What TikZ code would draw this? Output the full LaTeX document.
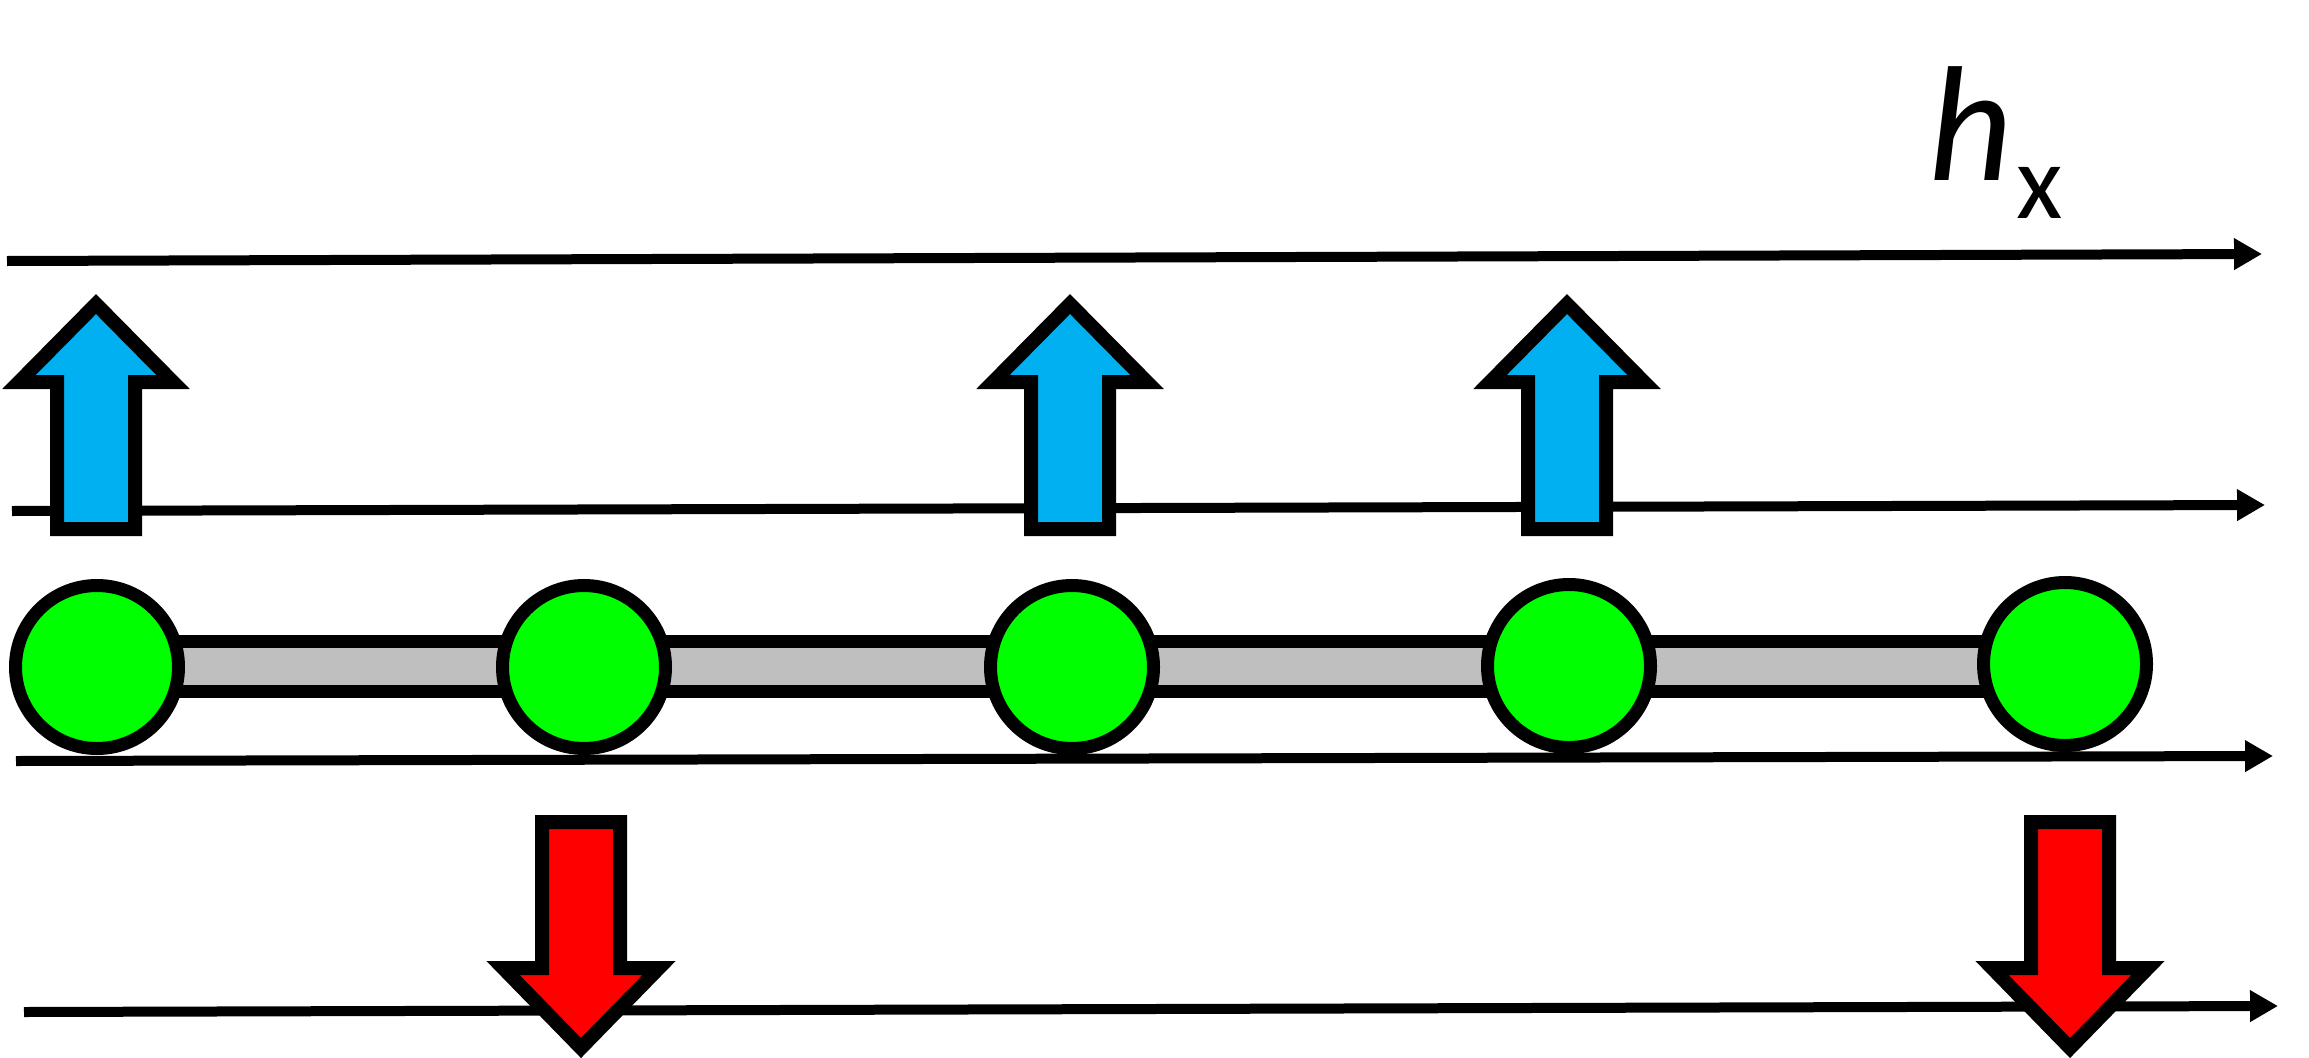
\documentclass[tikz,border=0pt]{standalone}
\usepackage{fontspec}
\setmainfont{Carlito}
\usetikzlibrary{arrows.meta}
\definecolor{spinblue}{HTML}{00B0F0}
\definecolor{spingreen}{HTML}{00FF00}
\definecolor{spinred}{HTML}{FF0000}
\definecolor{bargray}{HTML}{BFBFBF}
\tikzset{
  axisline/.style={line width=10pt,-{Triangle[length=28pt,width=30pt]}},
  atom/.style={circle,draw=black,fill=spingreen,line width=13pt,minimum size=163pt,inner sep=0pt},
  spinup/.pic={\draw[line width=14pt,line join=miter,fill=spinblue]
      (0,304) -- (77,382) -- (39,382) -- (39,529) -- (-39,529) -- (-39,382) -- (-77,382) -- cycle;},
  spindown/.pic={\draw[line width=14pt,line join=miter,fill=spinred]
      (0,1048) -- (78,968) -- (39,968) -- (39,822) -- (-39,822) -- (-39,968) -- (-78,968) -- cycle;}
}
\begin{document}
\begin{tikzpicture}[x=1pt,y=-1pt]
\useasboundingbox (0,0) rectangle (2309,1057);
% axis lines
\coordinate (a1s) at (7,261);   \coordinate (a1e) at (2262,254);
\coordinate (a2s) at (12,511);  \coordinate (a2e) at (2265,505);
\coordinate (a3s) at (16,761);  \coordinate (a3e) at (2273,756);
\coordinate (a4s) at (24,1012); \coordinate (a4e) at (2278,1006);
\draw[axisline] (a1s) -- (a1e);
\draw[axisline] (a2s) -- (a2e);
\draw[axisline] (a3s) -- (a3e);
\draw[axisline] (a4s) -- (a4e);
% chain bar
\draw[line width=13pt,fill=bargray] (97,641.5) rectangle (2065,691.5);
% atoms
\node[atom] (c1) at (97,667) {};
\node[atom] (c2) at (584,667) {};
\node[atom] (c3) at (1072,667) {};
\node[atom] (c4) at (1569,666) {};
\node[atom] (c5) at (2065,664) {};
% spins
\pic at (96,0) {spinup};
\pic at (1070,0) {spinup};
\pic at (1567,0) {spinup};
\pic at (581,0) {spindown};
\pic at (2070,0) {spindown};
% label
\node[anchor=base west,inner sep=0pt,font=\fontsize{164}{164}\selectfont\itshape] (hl) at (1928,180) {h};
\node[anchor=base west,inner sep=0pt,font=\fontsize{107}{107}\selectfont] (xl) at (2016,218) {x};
\end{tikzpicture}
\end{document}
